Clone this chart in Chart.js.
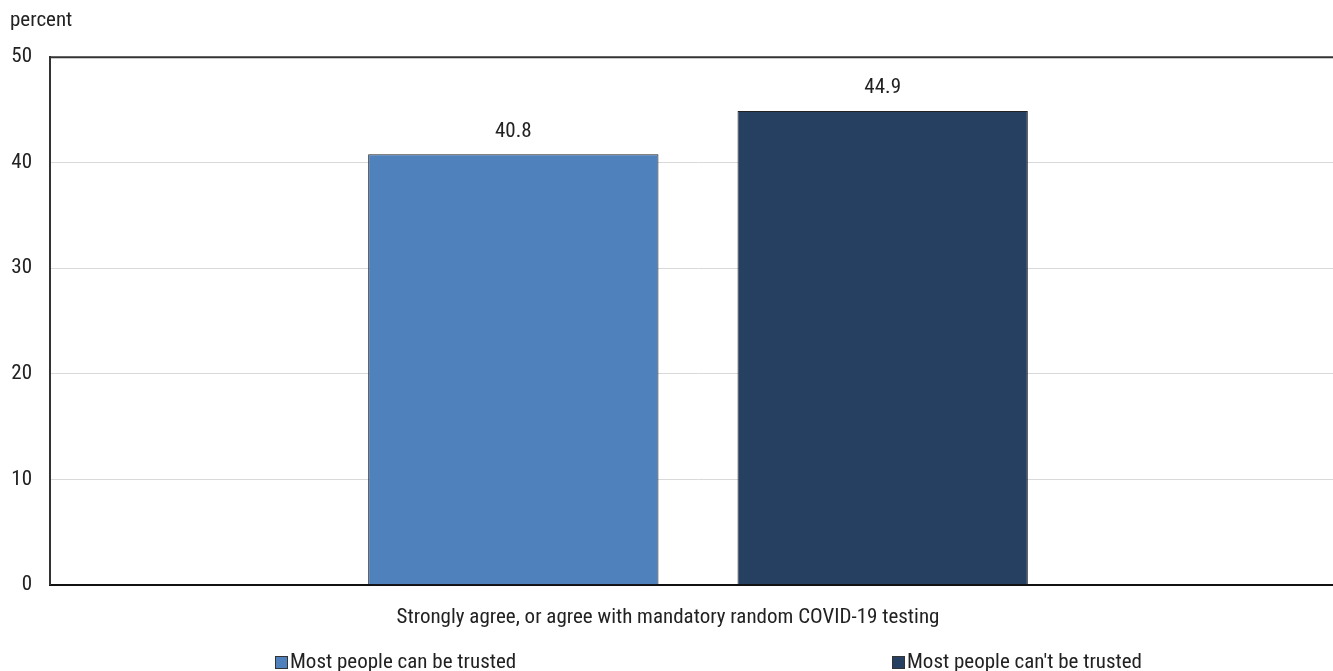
<!DOCTYPE html>
<html>
<head>
<meta charset="utf-8">
<script src="https://cdn.jsdelivr.net/npm/chart.js@4/dist/chart.umd.min.js"></script>
<style>
html,body{margin:0;padding:0;background:#fff;overflow:hidden;}
#wrap{position:relative;width:1333px;height:671px;overflow:hidden;}
</style>
</head>
<body>
<div id="wrap"><canvas id="c" width="1346" height="671"></canvas></div>
<script>
const categories = ["Strongly agree, or agree with mandatory random COVID-19 testing"];
const seriesNames = ["Most people can be trusted", "Most people can't be trusted"];
const trustedValues = [40.8];
const notTrustedValues = [44.9];
const yTicks = [0, 10, 20, 30, 40, 50];
const yTitle = "percent";

const FONT = "'Liberation Sans Narrow', 'Roboto Condensed', 'Arial Narrow', sans-serif";
const FS = 21;
const colors = ["#4F81BD", "#254061"];

const valueLabels = {
  id: 'valueLabels',
  afterDatasetsDraw(chart) {
    const ctx = chart.ctx;
    ctx.save();
    ctx.font = FS + "px " + FONT;
    ctx.fillStyle = "#222";
    ctx.textAlign = "center";
    ctx.textBaseline = "middle";
    chart.data.datasets.forEach((ds, i) => {
      chart.getDatasetMeta(i).data.forEach((bar, j) => {
        ctx.fillText(ds.data[j].toFixed(1), bar.x, bar.y - 23);
      });
    });
    ctx.restore();
  }
};

const customLegend = {
  id: 'customLegend',
  afterDraw(chart) {
    const ctx = chart.ctx;
    const xs = [275, 892];
    const y = 663;
    ctx.save();
    ctx.font = FS + "px " + FONT;
    ctx.textBaseline = "middle";
    ctx.textAlign = "left";
    chart.data.datasets.forEach((ds, i) => {
      ctx.fillStyle = ds.backgroundColor;
      ctx.fillRect(xs[i], y - 7, 13, 13);
      ctx.strokeStyle = "#333";
      ctx.lineWidth = 1;
      ctx.strokeRect(xs[i] + 0.5, y - 6.5, 12, 12);
      ctx.fillStyle = "#222";
      ctx.fillText(ds.label, xs[i] + 15, y);
    });
    ctx.restore();
  }
};

const topBorder = {
  id: 'topBorder',
  afterDraw(chart) {
    const a = chart.chartArea;
    const ctx = chart.ctx;
    ctx.save();
    ctx.strokeStyle = "#333";
    ctx.lineWidth = 2;
    ctx.beginPath();
    ctx.moveTo(a.left, a.top);
    ctx.lineTo(a.right, a.top);
    ctx.stroke();
    ctx.restore();
  }
};

new Chart(document.getElementById('c'), {
  type: 'bar',
  data: {
    labels: categories,
    datasets: [
      { label: seriesNames[0], data: trustedValues, backgroundColor: colors[0], borderColor: "#222", borderWidth: 1 },
      { label: seriesNames[1], data: notTrustedValues, backgroundColor: colors[1], borderColor: "#222", borderWidth: 1 }
    ]
  },
  options: {
    responsive: false,
    animation: false,
    layout: { padding: { left: 10, right: 0, top: 0, bottom: 21 } },
    datasets: { bar: { categoryPercentage: 0.570, barPercentage: 0.786 } },
    plugins: {
      legend: { display: false },
      tooltip: { enabled: false },
      title: {
        display: true, text: yTitle, align: 'start', color: '#222',
        font: { family: FONT, size: FS, weight: 'normal' },
        padding: { top: 8, bottom: 24 }
      }
    },
    scales: {
      x: {
        grid: { display: false, drawTicks: false },
        border: { color: '#111', width: 2 },
        ticks: { color: '#222', font: { family: FONT, size: FS }, padding: 20, labelOffset: -30 }
      },
      y: {
        min: 0, max: 50,
        afterBuildTicks(axis) { axis.ticks = yTicks.map(v => ({ value: v })); },
        afterFit(axis) { axis.width = 40; },
        grid: { color: '#d9d9d9', drawTicks: false },
        border: { color: '#333', width: 2 },
        ticks: { color: '#222', font: { family: FONT, size: FS }, padding: 18 }
      }
    }
  },
  plugins: [valueLabels, customLegend, topBorder]
});
</script>
</body>
</html>
